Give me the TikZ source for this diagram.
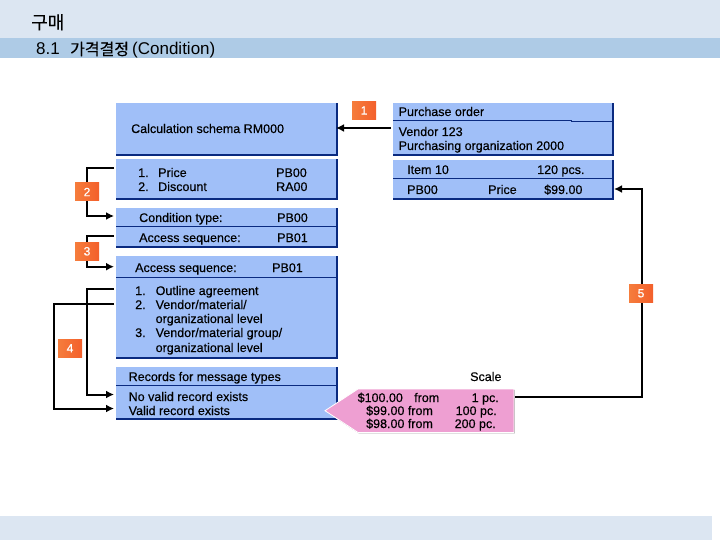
\documentclass[tikz,border=0pt]{standalone}
\usepackage{fontspec}
\setmainfont{Liberation Sans}[BoldFont={Liberation Sans},BoldFeatures={FakeBold=0.35}]
\newfontfamily\cjk{Noto Sans CJK KR}[BoldFont={Noto Sans CJK KR},BoldFeatures={FakeBold=0.5}]
\usetikzlibrary{arrows.meta,calc,shadows}
\definecolor{bandA}{HTML}{DCE6F2}
\definecolor{bandB}{HTML}{AECBE6}
\definecolor{panel}{HTML}{A0BFF8}
\definecolor{edgeb}{HTML}{0A2A80}
\definecolor{tagc}{HTML}{F26A30}
\definecolor{pinkc}{HTML}{EE9FD2}
\tikzset{x=1pt,y=-1pt,
  txt/.style={inner sep=0pt,anchor=base west,yshift=-4.5pt,font=\fontsize{12.5}{14}\selectfont\bfseries},
  panelbox/.style={fill=panel,draw=none,inner sep=0pt,anchor=north west},
  tagbox/.style={left color=tagc!80!orange!90!white,right color=tagc!90!red,draw=none,text=white,inner sep=0pt,minimum width=24pt,minimum height=18pt,font=\fontsize{12}{14}\selectfont\bfseries},
  conn/.style={line width=2pt,black},
  arr/.style={conn,-{Latex[length=8pt,width=8pt]}},
  edgeline/.style={line width=1.8pt,edgeb},
  thin line/.style={line width=1pt,edgeb}}
\newcommand{\pbox}[5]{% name x1 y1 x2 y2
  \node[panelbox,minimum width=#4pt-#2pt,minimum height=#5pt-#3pt] (#1) at (#2,#3) {};
  \draw[edgeline] (#2,#5) -- (#4,#5) -- (#4,#3);
}
\begin{document}
\begin{tikzpicture}
\useasboundingbox (0,0) rectangle (720,540);
\fill[bandA] (0,0) rectangle (720,38);
\fill[bandB] (0,38) rectangle (720,58);
\fill[bandA] (0,516) rectangle (712,540);
\node[inner sep=0pt,anchor=base west,font=\cjk\fontsize{18}{20}\selectfont\bfseries] (title) at (31,29) {구매};
\node[inner sep=0pt,anchor=base west,font=\fontsize{17}{18}\selectfont] (subtitle) at (36,55) {\makebox[34pt][l]{8.1}\makebox[62pt][l]{\cjk\fontsize{16}{18}\selectfont\bfseries 가격결정}(Condition)};
\pbox{calc}{116}{103}{337}{155}
\pbox{list}{116}{159}{337}{199}
\pbox{cond}{116}{208}{337}{247}
\pbox{acc}{116}{256}{337}{358}
\pbox{rec}{116}{367}{337}{419}
\pbox{po}{393}{103}{613}{155}
\pbox{item}{393}{160}{613}{199}
\draw[thin line] (116,226.5) -- (337,226.5);
\draw[thin line] (116,277.5) -- (337,277.5);
\draw[thin line] (116,385.5) -- (337,385.5);
\draw[thin line] (393,120.5) -- (571,120.5) -- (571,121.5) -- (613,121.5);
\draw[thin line] (393,178.5) -- (613,178.5);
\node[txt] (t1) at (131,128.5) {Calculation schema RM000};
\node[txt] (t2) at (138,172.5) {\makebox[20pt][l]{1.}Price};
\node[txt] (t3) at (138,186.5) {\makebox[20pt][l]{2.}Discount};
\node[txt] (t4) at (276,172.5) {PB00};
\node[txt] (t5) at (276,186.5) {RA00};
\node[txt] (t6) at (139,217.5) {Condition type:};
\node[txt] (t7) at (277,217.5) {PB00};
\node[txt] (t8) at (139,237.5) {Access sequence:};
\node[txt] (t9) at (277,237.5) {PB01};
\node[txt] (t10) at (135,267.5) {Access sequence:};
\node[txt] (t11) at (272,267.5) {PB01};
\node[txt] (t12) at (135,290.5) {1.};
\node[txt] (t13) at (155.5,290.5) {Outline agreement};
\node[txt] (t14) at (135,304.5) {2.};
\node[txt] (t15) at (155.5,304.5) {Vendor/material/};
\node[txt] (t16) at (155.5,318.5) {organizational level};
\node[txt] (t17) at (135,332.5) {3.};
\node[txt] (t18) at (155.5,332.5) {Vendor/material group/};
\node[txt] (t19) at (155.5,347.5) {organizational level};
\node[txt] (t20) at (128.5,376.5) {Records for message types};
\node[txt] (t21) at (128.5,396.5) {No valid record exists};
\node[txt] (t22) at (128.5,410.5) {Valid record exists};
\node[txt] (t23) at (398.5,111.5) {Purchase order};
\node[txt] (t24) at (398.5,131.5) {Vendor 123};
\node[txt] (t25) at (398.5,145.5) {Purchasing organization 2000};
\node[txt] (t26) at (407,169.5) {Item 10};
\node[txt] (t27) at (537,169.5) {120 pcs.};
\node[txt] (t28) at (407,189.5) {PB00};
\node[txt] (t29) at (488,189.5) {Price};
\node[txt] (t30) at (544,189.5) {\$99.00};
\node[txt] (t31) at (470,376.5) {Scale};
% connectors
\coordinate (c1) at (391,128);
\coordinate (c1e) at (336,128);
\draw[arr] (c1) -- (c1e);
\coordinate (l1) at (114,168);
\coordinate (l2) at (114,216);
\draw[arr] (l1) -- (87,168) -- (87,216) -- (l2);
\coordinate (l3) at (114,235.5);
\coordinate (l4) at (114,266.7);
\draw[arr] (l3) -- (87,235.5) -- (87,266.7) -- (l4);
\coordinate (l5) at (114,289);
\coordinate (l6) at (114,394.5);
\draw[arr] (l5) -- (87,289) -- (87,394.5) -- (l6);
\coordinate (l7) at (114,303.5);
\coordinate (l8) at (114,408.5);
\draw[arr] (l7) -- (54,303.5) -- (54,408.5) -- (l8);
\coordinate (r1) at (614,189);
\coordinate (pinkr) at (515,397);
\draw[arr] (pinkr) -- (642,397) -- (642,189) -- (r1);
% pink callout
\path[fill=pinkc,draw=white,line width=0.8pt,drop shadow={shadow xshift=0.9pt,shadow yshift=-0.9pt,fill=black!35,opacity=1}]
 (514,389) -- (358,389) -- (325,410.7) -- (358,432.5) -- (514,432.5) -- cycle;
\node[txt] (p1) at (357.5,397.5) {\$100.00};
\node[txt] (p2) at (414,397.5) {from};
\node[txt] (p3) at (471.5,397.5) {1 pc.};
\node[txt] (p4) at (366,410.5) {\$99.00 from};
\node[txt] (p5) at (455.5,410.5) {100 pc.};
\node[txt] (p6) at (366,423.5) {\$98.00 from};
\node[txt] (p7) at (454.5,423.5) {200 pc.};
% tags
\node[tagbox] (tag1) at (364,110.5) {1};
\node[tagbox] (tag2) at (87,192) {2};
\node[tagbox] (tag3) at (87,251.3) {3};
\node[tagbox] (tag4) at (70,348.3) {4};
\node[tagbox] (tag5) at (641,293.3) {5};
\end{tikzpicture}
\end{document}
